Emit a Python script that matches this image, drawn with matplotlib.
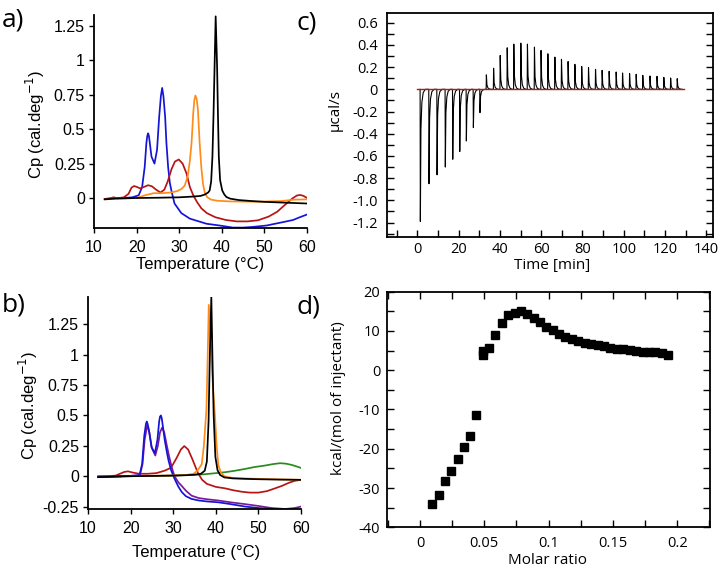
import numpy as np
import matplotlib
matplotlib.use("Agg")
import matplotlib.pyplot as plt
from matplotlib.ticker import MultipleLocator, FixedLocator

# ---------------- data ----------------
# Panel a (DSC)
a_black_T = [12.5, 15, 20, 25, 30, 33, 35, 36, 36.8, 37.15, 37.5, 37.8, 38.05, 38.3, 38.56, 38.9, 39.1, 39.3, 39.6, 40.1, 40.6, 41.1, 42, 44, 47, 50, 55, 60]
a_black_Cp = [-0.01, -0.005, 0.0, 0.002, 0.005, 0.01, 0.015, 0.025, 0.04, 0.055, 0.12, 0.30, 0.6, 0.95, 1.32, 0.95, 0.6, 0.30, 0.13, 0.055, 0.025, 0.007, -0.005, -0.015, -0.022, -0.028, -0.034, -0.04]

a_orange_T = [20, 22, 24, 26, 28, 29.5, 30.5, 31.3, 32.0, 32.5, 32.9, 33.3, 33.55, 33.8, 34.1, 34.4, 34.8, 35.2, 35.6, 36.0, 36.6, 37.5, 39, 42, 48, 54, 57, 60]
a_orange_Cp = [0.0, 0.02, 0.035, 0.035, 0.04, 0.05, 0.065, 0.09, 0.16, 0.27, 0.40, 0.62, 0.71, 0.745, 0.72, 0.64, 0.40, 0.22, 0.1, 0.04, 0.005, -0.012, -0.02, -0.025, -0.027, -0.022, -0.012, -0.01]

a_blue_T = [15, 17, 19, 20.5, 21.3, 21.9, 22.3, 22.5, 22.7, 22.9, 23.1, 23.5, 24.2, 24.8, 25.3, 25.7, 26.0, 26.3, 26.7, 27.0, 27.4, 27.8, 28.2, 28.9, 30.5, 32.5, 36.4, 39.5, 42.6, 45, 47.3, 50.5, 54.4, 56.7, 58.3, 60]
a_blue_Cp = [0.0, 0.0, 0.005, 0.02, 0.08, 0.225, 0.40, 0.45, 0.47, 0.45, 0.40, 0.30, 0.25, 0.35, 0.59, 0.74, 0.80, 0.74, 0.59, 0.40, 0.225, 0.11, 0.05, -0.04, -0.11, -0.15, -0.187, -0.2, -0.215, -0.215, -0.21, -0.2, -0.175, -0.16, -0.14, -0.12]

a_red_T = [12.5, 14, 14.6, 15.5, 17, 18.1, 18.8, 19.4, 20.1, 20.8, 21.7, 22.7, 23.6, 24.6, 25.6, 26.5, 27.3, 28.2, 29.0, 29.9, 30.8, 31.7, 32.5, 33.3, 34.2, 35.2, 36.5, 38.5, 41, 43.5, 46, 48.5, 51, 53, 55, 56.5, 57.6, 58.4, 59.2, 60]
a_red_Cp = [-0.007, 0.0, 0.005, -0.002, 0.005, 0.03, 0.075, 0.087, 0.08, 0.07, 0.08, 0.093, 0.085, 0.06, 0.04, 0.06, 0.12, 0.21, 0.265, 0.28, 0.25, 0.18, 0.08, 0.02, -0.03, -0.075, -0.11, -0.14, -0.16, -0.17, -0.17, -0.162, -0.135, -0.1, -0.045, -0.005, 0.018, 0.022, 0.015, 0.0]

# Panel b (DSC)
b_black_T = [12.4, 15, 20, 25, 30, 33, 35, 36.5, 37.4, 37.9, 38.3, 38.6, 38.95, 39.2, 39.5, 39.9, 40.4, 41, 42, 44, 47, 50, 55, 60]
b_black_Cp = [-0.008, -0.005, 0.0, 0.002, 0.005, 0.008, 0.012, 0.02, 0.045, 0.12, 0.45, 1.0, 1.477, 1.0, 0.5, 0.16, 0.05, 0.01, -0.01, -0.018, -0.022, -0.025, -0.028, -0.03]

b_orange_T = [20, 25, 30, 33, 34.8, 35.8, 36.7, 37.2, 37.8, 38.1, 38.35, 38.7, 39.0, 39.4, 39.8, 40.2, 40.6, 41.2, 42, 44, 50, 55, 60]
b_orange_Cp = [0.0, 0.003, 0.006, 0.01, 0.02, 0.05, 0.1, 0.25, 0.55, 1.0, 1.41, 1.25, 0.95, 0.7, 0.5, 0.25, 0.09, 0.03, 0.0, -0.015, -0.022, -0.026, -0.03]

b_green_T = [12.4, 20, 30, 35, 37, 40, 42.2, 44.5, 46.9, 49, 51.6, 53.5, 55.1, 56.5, 57.8, 59, 60]
b_green_Cp = [-0.005, 0.0, 0.005, 0.012, 0.015, 0.025, 0.033, 0.045, 0.06, 0.075, 0.088, 0.1, 0.107, 0.103, 0.093, 0.08, 0.068]

b_red_T = [12.4, 15, 16.5, 17.5, 18.5, 19.4, 20.5, 22, 24, 26, 27, 28.1, 29.5, 30.8, 31.8, 32.6, 33.5, 34.5, 35.3, 35.9, 36.8, 37.9, 40, 42.2, 44, 46.1, 48, 50, 52, 53.9, 55.5, 57.1, 58.5, 60]
b_red_Cp = [0.0, 0.0, 0.005, 0.02, 0.035, 0.04, 0.03, 0.02, 0.02, 0.025, 0.035, 0.047, 0.07, 0.15, 0.22, 0.248, 0.22, 0.14, 0.07, 0.02, -0.03, -0.063, -0.088, -0.1, -0.115, -0.128, -0.135, -0.135, -0.123, -0.1, -0.08, -0.055, -0.038, -0.03]

b_blue_T = [12.4, 15, 18, 20, 21.5, 22.1, 22.7, 23.2, 23.6, 23.8, 24.0, 24.3, 24.9, 25.7, 26.3, 26.7, 26.9, 27.1, 27.3, 27.5, 28.0, 28.5, 28.9, 29.5, 30.3, 31.2, 32, 33, 34.3, 36, 38, 40.6, 43.5, 46.9, 50, 53.1, 56, 59.4, 60]
b_blue_Cp = [-0.005, -0.003, 0.0, 0.003, 0.006, 0.01, 0.1, 0.33, 0.43, 0.45, 0.43, 0.38, 0.24, 0.19, 0.3, 0.45, 0.49, 0.5, 0.48, 0.43, 0.3, 0.2, 0.13, 0.05, -0.02, -0.085, -0.13, -0.165, -0.187, -0.2, -0.208, -0.215, -0.23, -0.25, -0.262, -0.27, -0.274, -0.275, -0.275]

b_purple_T = [12.4, 15, 18, 20, 21.5, 22.2, 22.8, 23.3, 23.9, 24.4, 25.0, 25.8, 26.4, 26.9, 27.4, 27.9, 28.4, 29.0, 29.6, 30.3, 31.2, 32, 33, 34.3, 36, 38, 40.6, 43.5, 46.9, 50, 53.1, 56.3, 58.5, 60]
b_purple_Cp = [-0.005, -0.003, 0.0, 0.003, 0.006, 0.01, 0.1, 0.3, 0.42, 0.36, 0.23, 0.17, 0.25, 0.36, 0.40, 0.36, 0.27, 0.17, 0.08, 0.0, -0.05, -0.08, -0.12, -0.16, -0.18, -0.19, -0.2, -0.215, -0.23, -0.245, -0.262, -0.27, -0.262, -0.25]

# Panel c (ITC raw heat rate): injection times [min] and peak heights [ucal/s]
inj_time = [1.3, 5.5, 9.4, 13.4, 17.0, 20.4, 23.6, 27.0, 30.2,
            33.3, 36.8, 40.0, 43.4, 46.6, 50.0, 53.2, 56.6, 59.8, 63.1,
            66.5, 69.7, 72.9, 76.2, 79.5, 82.8, 86.2, 89.4, 92.8, 96.2,
            99.3, 102.7, 105.9, 109.1, 112.6, 116.0, 119.3, 122.6, 125.8]
inj_peak = [-1.19, -0.85, -0.77, -0.70, -0.63, -0.56, -0.465, -0.345, -0.21,
            0.13, 0.19, 0.305, 0.374, 0.407, 0.416, 0.407, 0.38, 0.35, 0.32,
            0.29, 0.27, 0.25, 0.225, 0.205, 0.195, 0.18, 0.171, 0.162, 0.156,
            0.147, 0.141, 0.135, 0.126, 0.12, 0.117, 0.108, 0.102, 0.096]
baseline_t = [0.0, 129.0]
baseline_v = [0.0, 0.0]

# Panel d (integrated heats)
molar_ratio = [0.0096, 0.0145, 0.0194, 0.0243, 0.0292, 0.0339, 0.0388, 0.0437, 0.0486, 0.0486,
               0.0536, 0.0585, 0.0634, 0.0686, 0.0735, 0.0784, 0.0833, 0.0885, 0.0934, 0.0983,
               0.103, 0.108, 0.113, 0.118, 0.123, 0.128, 0.133, 0.138, 0.143, 0.148,
               0.153, 0.158, 0.163, 0.168, 0.173, 0.178, 0.183, 0.188, 0.193]
heat = [-34.0, -31.9, -28.3, -25.6, -22.6, -19.6, -16.8, -11.4, 3.8, 4.9,
        5.7, 8.9, 12.0, 14.1, 14.7, 15.0, 14.2, 13.2, 12.2, 11.0,
        10.2, 9.3, 8.5, 7.9, 7.4, 7.0, 6.8, 6.5, 6.1, 5.7,
        5.5, 5.3, 5.1, 5.0, 4.7, 4.7, 4.6, 4.3, 4.0]

# ---------------- styling ----------------
W, H = 721, 570
BLUE = "#1414d8"
RED = "#b81414"
ORANGE = "#ff8c1a"
GREEN = "#2a8a1e"
PURPLE = "#7a1a9a"
LW = 1.25
SANS_A = "Liberation Sans"
SANS_C = "Open Sans"

fig = plt.figure(figsize=(W / 100, H / 100), dpi=100)


def rect(l, t, r, b):
    return [l / W, 1 - b / H, (r - l) / W, (b - t) / H]


def style_dsc(ax, yticks, ylabels):
    for s in ("top", "right"):
        ax.spines[s].set_visible(False)
    for s in ("left", "bottom"):
        ax.spines[s].set_linewidth(1.3)
    ax.set_xlim(10, 60)
    ax.set_xticks([10, 20, 30, 40, 50, 60])
    ax.set_xticklabels(["10", "20", "30", "40", "50", "60"])
    ax.set_yticks(yticks)
    ax.set_yticklabels(ylabels)
    ax.tick_params(direction="out", length=3.5, width=1.0, labelsize=11.5)
    ax.tick_params(axis="x", pad=5)
    ax.tick_params(axis="y", pad=3)
    for lab in ax.get_xticklabels() + ax.get_yticklabels():
        lab.set_fontfamily(SANS_A)


# Panel a
axA = fig.add_axes(rect(94, 15, 307, 228))
axA.plot(a_blue_T, a_blue_Cp, color=BLUE, lw=LW)
axA.plot(a_red_T, a_red_Cp, color=RED, lw=LW)
axA.plot(a_orange_T, a_orange_Cp, color=ORANGE, lw=LW)
axA.plot(a_black_T, a_black_Cp, color="black", lw=LW)
axA.set_ylim(-0.218, 1.33)
style_dsc(axA, [0, 0.25, 0.5, 0.75, 1, 1.25], ["0", "0.25", "0.5", "0.75", "1", "1.25"])

# Panel b
axB = fig.add_axes(rect(88, 297, 301, 509))
axB.plot(b_green_T, b_green_Cp, color=GREEN, lw=LW)
axB.plot(b_red_T, b_red_Cp, color=RED, lw=LW)
axB.plot(b_purple_T, b_purple_Cp, color=PURPLE, lw=LW)
axB.plot(b_blue_T, b_blue_Cp, color=BLUE, lw=LW)
axB.plot(b_orange_T, b_orange_Cp, color=ORANGE, lw=LW)
axB.plot(b_black_T, b_black_Cp, color="black", lw=LW)
axB.set_ylim(-0.27, 1.475)
style_dsc(axB, [-0.25, 0, 0.25, 0.5, 0.75, 1, 1.25], ["-0.25", "0", "0.25", "0.5", "0.75", "1", "1.25"])

for (cx, cy) in [(200, 264), (196, 552)]:
    fig.text(cx / W, 1 - cy / H, "Temperature (\u00b0C)", ha="center", va="center",
             fontsize=12, family=SANS_A)
for (cx, cy) in [(35, 124), (28, 405)]:
    fig.text(cx / W, 1 - cy / H, r"Cp (cal.deg$^{-1}$)", ha="center", va="center",
             rotation=90, fontsize=12, family=SANS_A)


# Panel c
axC = fig.add_axes(rect(387.3, 12.7, 713.3, 237))
trace_t = []
trace_v = []
for t0, A in zip(inj_time, inj_peak):
    trace_t += [t0 - 0.05, t0, t0 + 0.12, t0 + 0.4, t0 + 0.85, t0 + 1.5, t0 + 2.5]
    trace_v += [0.0, 0.0, A, 0.3 * A, 0.1 * A, 0.025 * A, 0.0]
axC.plot(trace_t, trace_v, color="black", lw=0.8)
axC.plot(baseline_t, baseline_v, color="#a81c1c", lw=1.0)
axC.set_xlim(-14.6, 143.4)
axC.set_ylim(-1.33, 0.69)
axC.xaxis.set_major_locator(FixedLocator([0, 20, 40, 60, 80, 100, 120, 140]))
axC.set_xticklabels(["0", "20", "40", "60", "80", "100", "120", "140"])
axC.xaxis.set_minor_locator(MultipleLocator(10))
yc = [0.6, 0.4, 0.2, 0, -0.2, -0.4, -0.6, -0.8, -1.0, -1.2]
axC.yaxis.set_major_locator(FixedLocator(yc))
axC.set_yticklabels(["0.6", "0.4", "0.2", "0", "-0.2", "-0.4", "-0.6", "-0.8", "-1.0", "-1.2"])
axC.yaxis.set_minor_locator(MultipleLocator(0.1))
axC.tick_params(which="both", direction="in", length=5, width=1.0,
                left=True, right=True, bottom=True, top=False, labelsize=10.5)
axC.tick_params(axis="x", which="both", pad=3.5)
axC.tick_params(axis="y", which="both", pad=7)
for s in axC.spines.values():
    s.set_linewidth(1.3)
for lab in axC.get_xticklabels() + axC.get_yticklabels():
    lab.set_fontfamily(SANS_C)
fig.text(551.8 / W, 1 - 266 / H, "Time [min]", ha="center", va="center",
         fontsize=11, family=SANS_C)
fig.text(335 / W, 1 - 110 / H, "\u00b5cal/s", ha="center", va="center",
         rotation=90, fontsize=11, family=SANS_C)

# Panel d
axD = fig.add_axes(rect(387.3, 291.7, 710, 527.3))
axD.plot(molar_ratio, heat, linestyle="none", marker="s", ms=5.3, color="black")
axD.set_xlim(-0.0254, 0.2254)
axD.set_ylim(-40, 20)
axD.xaxis.set_major_locator(FixedLocator([0, 0.05, 0.1, 0.15, 0.2]))
axD.set_xticklabels(["0", "0.05", "0.1", "0.15", "0.2"])
axD.xaxis.set_minor_locator(MultipleLocator(0.025))
axD.yaxis.set_major_locator(FixedLocator([20, 10, 0, -10, -20, -30, -40]))
axD.set_yticklabels(["20", "10", "0", "-10", "-20", "-30", "-40"])
axD.yaxis.set_minor_locator(MultipleLocator(5))
axD.tick_params(which="both", direction="in", length=5, width=1.0,
                left=True, right=True, bottom=True, top=True, labelsize=10.5)
axD.tick_params(axis="x", which="both", pad=6)
axD.tick_params(axis="y", which="both", pad=5)
for s in axD.spines.values():
    s.set_linewidth(1.3)
for lab in axD.get_xticklabels() + axD.get_yticklabels():
    lab.set_fontfamily(SANS_C)
fig.text(547.5 / W, 1 - 560 / H, "Molar ratio", ha="center", va="center",
         fontsize=11, family=SANS_C)
fig.text(339 / W, 1 - 398 / H, "kcal/(mol of injectant)", ha="center", va="center",
         rotation=90, fontsize=11, family=SANS_C)

# Panel letters
for txt, cx, cy in [("a)", 13, 20), ("b)", 14, 305), ("c)", 307, 23), ("d)", 308, 307)]:
    fig.text(cx / W, 1 - cy / H, txt, ha="center", va="center", fontsize=19, family=SANS_C)

fig.savefig("out.png", dpi=100)
